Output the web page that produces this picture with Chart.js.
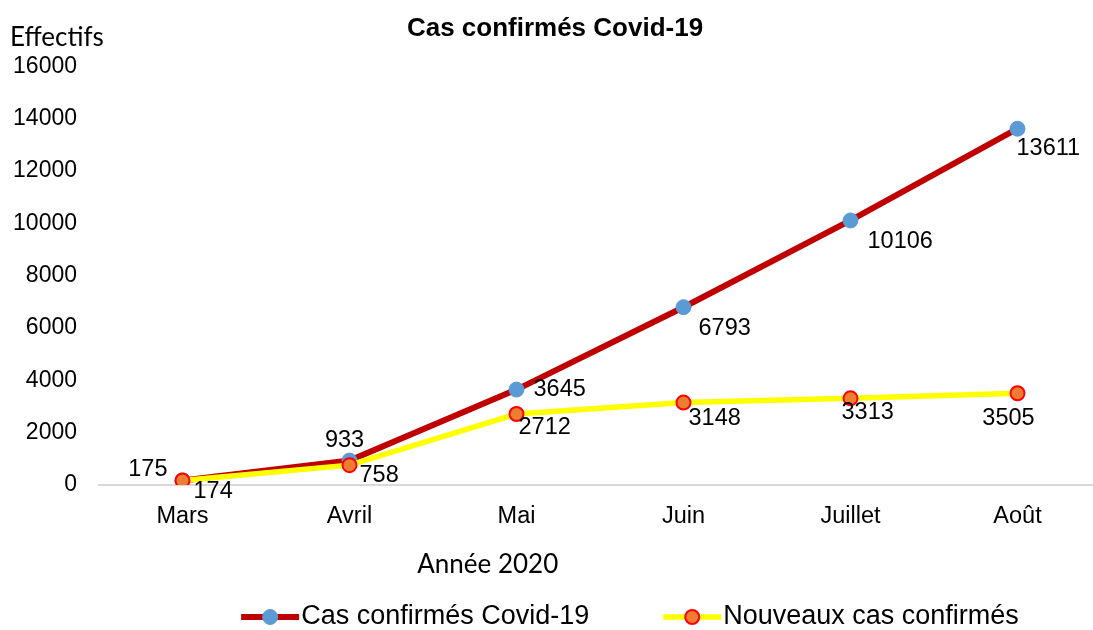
<!DOCTYPE html>
<html>
<head>
<meta charset="utf-8">
<script src="https://cdn.jsdelivr.net/npm/chart.js@4"></script>
<style>
html, body { margin: 0; padding: 0; background: #fff; overflow: hidden; }
#wrap { position: absolute; left: 0; top: 0; width: 1110px; height: 630px; }
</style>
</head>
<body>
<div id="wrap"><canvas id="chart" width="1110" height="630"></canvas></div>
<script>
var mois = ['Mars', 'Avril', 'Mai', 'Juin', 'Juillet', 'Août'];
var casConfirmes = [175, 933, 3645, 6793, 10106, 13611];
var nouveauxCas = [174, 758, 2712, 3148, 3313, 3505];
var yTicks = [0, 2000, 4000, 6000, 8000, 10000, 12000, 14000, 16000];

// where each value label sits next to its point: [dx, dy, align]
var etiquettesCas = [[-15, -11, 'right'], [-5, -20, 'center'], [17, 0, 'left'], [15, 21, 'left'], [17, 21, 'left'], [-1, 20, 'left']];
var etiquettesNouveaux = [[11, 11, 'left'], [10, 10, 'left'], [2, 14, 'left'], [5, 16, 'left'], [-9, 14, 'left'], [-9, 25, 'center']];
var positions = [etiquettesCas, etiquettesNouveaux];

var arial = '"Liberation Sans", Arial, sans-serif';
var calibri = 'Lato, "Open Sans", sans-serif';

Chart.defaults.font.family = arial;
Chart.defaults.color = '#000';

var etiquettes = {
    id: 'etiquettes',
    afterDatasetsDraw: function (chart) {
        var ctx = chart.ctx;
        ctx.save();
        ctx.font = '23.5px ' + arial;
        ctx.fillStyle = '#000';
        ctx.textBaseline = 'middle';
        chart.data.datasets.forEach(function (ds, i) {
            var meta = chart.getDatasetMeta(i);
            meta.data.forEach(function (pt, j) {
                var p = positions[i][j];
                ctx.textAlign = p[2];
                ctx.fillText(ds.data[j], pt.x + p[0], pt.y + p[1]);
            });
        });
        ctx.restore();
    }
};

var textes = {
    id: 'textes',
    afterDraw: function (chart) {
        var ctx = chart.ctx;
        var area = chart.chartArea;
        ctx.save();
        ctx.fillStyle = '#000';
        ctx.font = '26px ' + calibri;
        ctx.textBaseline = 'alphabetic';
        ctx.textAlign = 'left';
        ctx.fillText('Effectifs', 10, area.top - 20);
        ctx.textAlign = 'center';
        ctx.fillText('Année 2020', area.left + (area.right - area.left) * 0.388, area.bottom + 88);

        // legend: line sample with marker, then the label
        ctx.font = '27px ' + arial;
        ctx.textBaseline = 'middle';
        ctx.textAlign = 'left';
        var ds = chart.data.datasets;
        var sample = 58, gap = 2, ecart = 74;
        var largeurs = ds.map(function (d) { return sample + gap + ctx.measureText(d.label).width; });
        var total = largeurs.reduce(function (a, b) { return a + b; }, 0) + ecart * (ds.length - 1);
        var x = 630 - total / 2;
        var y = 617;
        ds.forEach(function (d, i) {
            ctx.strokeStyle = d.borderColor;
            ctx.lineWidth = d.borderWidth;
            ctx.beginPath();
            ctx.moveTo(x, y);
            ctx.lineTo(x + sample, y);
            ctx.stroke();
            ctx.beginPath();
            ctx.arc(x + sample / 2, y, d.pointRadius, 0, Math.PI * 2);
            ctx.fillStyle = d.pointBackgroundColor;
            ctx.fill();
            ctx.lineWidth = d.pointBorderWidth;
            ctx.strokeStyle = d.pointBorderColor;
            ctx.stroke();
            ctx.fillStyle = '#000';
            ctx.fillText(d.label, x + sample + gap, y);
            x += largeurs[i] + ecart;
        });
        ctx.restore();
    }
};

new Chart(document.getElementById('chart'), {
    type: 'line',
    data: {
        labels: mois,
        datasets: [{
            label: 'Cas confirmés Covid-19',
            data: casConfirmes,
            borderColor: '#C00000',
            borderWidth: 6,
            pointBackgroundColor: '#5B9BD5',
            pointBorderColor: '#5B9BD5',
            pointBorderWidth: 1,
            pointRadius: 7.5,
            tension: 0,
            order: 1
        }, {
            label: 'Nouveaux cas confirmés',
            data: nouveauxCas,
            borderColor: '#FFFF00',
            borderWidth: 5.5,
            pointBackgroundColor: '#ED7D31',
            pointBorderColor: '#FF0000',
            pointBorderWidth: 2,
            pointRadius: 7,
            tension: 0,
            order: 0
        }]
    },
    options: {
        responsive: false,
        animation: false,
        devicePixelRatio: 1,
        layout: { padding: { left: 0, right: 0, top: 0, bottom: 0 } },
        plugins: {
            legend: { display: false },
            tooltip: { enabled: false },
            title: {
                display: true,
                text: 'Cas confirmés Covid-19',
                font: { size: 26, weight: 'bold', family: arial },
                color: '#000',
                padding: { top: 13, bottom: 22 }
            }
        },
        scales: {
            x: {
                offset: true,
                grid: { display: false, drawTicks: false },
                border: { display: true, color: '#D9D9D9', width: 2 },
                ticks: { font: { size: 23.5 }, padding: 17, color: '#000' },
                afterFit: function (s) { s.height = 145; }
            },
            y: {
                min: 0,
                max: 16000,
                grid: { display: false, drawTicks: false },
                border: { display: false },
                ticks: {
                    font: { size: 23 },
                    padding: 22,
                    color: '#000',
                    callback: function (v) { return String(v); }
                },
                afterBuildTicks: function (s) { s.ticks = yTicks.map(function (v) { return { value: v }; }); },
                afterFit: function (s) { s.width = 99; }
            }
        }
    },
    plugins: [etiquettes, textes]
});
</script>
</body>
</html>
